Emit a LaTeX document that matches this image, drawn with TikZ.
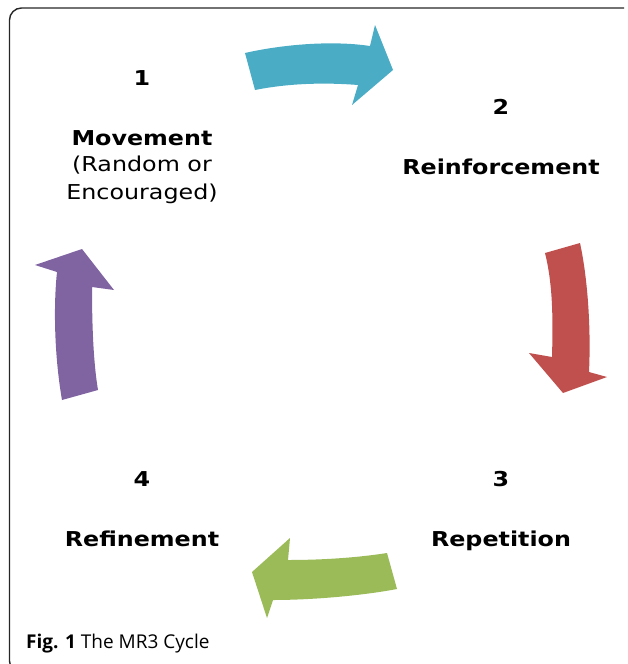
\documentclass[tikz,border=0pt]{standalone}
\usepackage{fontspec}
\newfontfamily\vfont[FakeStretch=1.16]{DejaVu Sans}
\newfontfamily\capfont{Open Sans}
\definecolor{cblue}{HTML}{4BACC6}
\definecolor{cred}{HTML}{C0504D}
\definecolor{cgreen}{HTML}{9BBB59}
\definecolor{cpurple}{HTML}{8064A2}
\tikzset{
  lbl/.style={anchor=base, inner sep=0pt, font=\vfont\fontsize{20.5}{29}\selectfont},
  blbl/.style={lbl, font=\vfont\bfseries\fontsize{20.5}{29}\selectfont},
  frame/.style={line width=1.4pt, black!85, rounded corners=12pt},
}
\begin{document}
\begin{tikzpicture}[x=1pt,y=-1pt]
\useasboundingbox (0,0) rectangle (627,664);
\clip (0,0) rectangle (627,664);
% frame
\draw[frame] (624,8) -- (9.5,8) -- (9.5,673) -- (60,673);
% arrows
\fill[cblue] (245,53) .. controls (280,45) and (330,40) .. (370,46) -- (375,25) -- (393,70) -- (352,105) -- (358,85) .. controls (320,82) and (285,84) .. (255,90) -- cycle;
\fill[cred] (545,253) -- (580,243) .. controls (588,280) and (591,330) .. (589,372) -- (607,377) -- (563,393) -- (529,353) -- (552,357) .. controls (553,320) and (553,285) .. (545,253) -- cycle;
\fill[cgreen] (387,553) -- (397,589) .. controls (360,596) and (310,600) .. (273,600) -- (267,618) -- (252,572) -- (290,538) -- (288,560) .. controls (320,560) and (355,558) .. (387,553) -- cycle;
\fill[cpurple] (62,400) -- (98,390) .. controls (93,360) and (92,320) .. (92,287) -- (114,290) -- (82,249) -- (35,265) -- (57,272) .. controls (53,310) and (55,360) .. (62,400) -- cycle;
% labels
\node[blbl] (n1) at (142,85) {1};
\node[blbl] (t1) at (142,145) {Movement};
\node[lbl] (t1b) at (142,171) {(Random or};
\node[lbl] (t1c) at (142,199) {Encouraged)};
\node[blbl] (n2) at (501,114) {2};
\node[blbl] (t2) at (501,174) {Reinforcement};
\node[blbl] (n3) at (501,486) {3};
\node[blbl] (t3) at (501,546) {Repetition};
\node[blbl] (n4) at (142,486) {4};
\node[blbl] (t4) at (142,546) {Refinement};
% caption
\node[anchor=base west, inner sep=0pt, font=\capfont\fontsize{19}{22}\selectfont] (cap) at (26,648) {\textbf{Fig. 1} The MR3 Cycle};
\end{tikzpicture}
\end{document}
